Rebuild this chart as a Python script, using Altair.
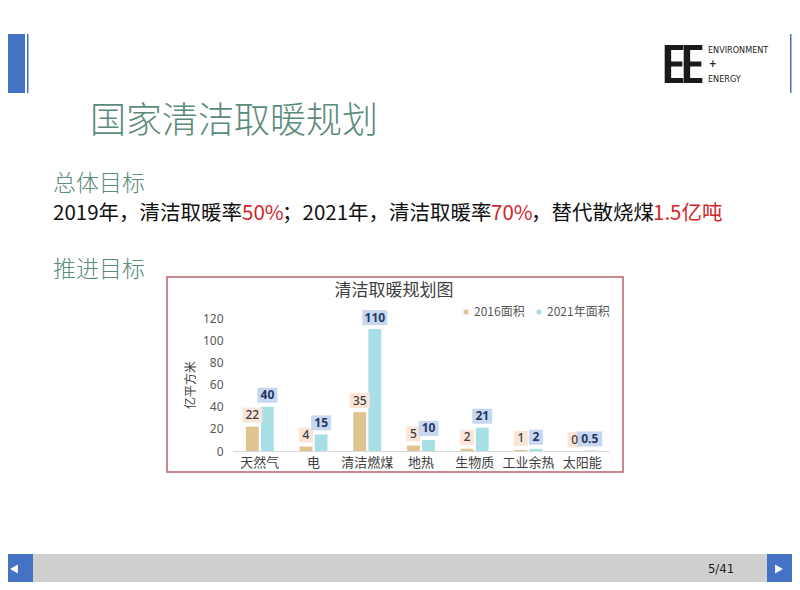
import altair as alt
import pandas as pd

# ---------------- data ----------------
categories = ["天然气", "电", "清洁燃煤", "地热", "生物质", "工业余热", "太阳能"]
area_2016 = [22, 4, 35, 5, 2, 1, 0]
area_2021 = [40, 15, 110, 10, 21, 2, 0.5]
series_names = ["2016面积", "2021年面积"]
y_ticks = [0, 20, 40, 60, 80, 100, 120]

slide_title = "国家清洁取暖规划"
section1 = "总体目标"
section2 = "推进目标"
goal_parts = ["2019年，清洁取暖率", "50%", "；2021年，清洁取暖率", "70%", "，替代散烧煤", "1.5亿吨"]
chart_title = "清洁取暖规划图"
y_title = "亿平方米"
page_label = "5/41"

rows = []
for c, a, b in zip(categories, area_2016, area_2021):
    rows.append({"cat": c, "series": series_names[0], "value": a, "label": f"{a:g}"})
    rows.append({"cat": c, "series": series_names[1], "value": b, "label": f"{b:g}"})
df = pd.DataFrame(rows)
df["len"] = df["label"].str.len()

CJK = "Noto Sans CJK SC"
TAN = "#e0c48f"
CYAN = "#a8dfe7"
BLUE = "#4472c4"
TEAL = "#5b8b7b"
RED = "#d0262a"

one = pd.DataFrame({"k": [0]})

def deco_rect(x, x2, y, y2, color, **kw):
    return alt.Chart(one).mark_rect(color=color, **kw).encode(
        x=alt.value(x), x2=alt.value(x2), y=alt.value(y), y2=alt.value(y2))

def deco_text(x, y, text, **kw):
    return alt.Chart(one).mark_text(text=text, **kw).encode(x=alt.value(x), y=alt.value(y))

def deco_point(x, y, shape, size, color):
    return alt.Chart(one).mark_point(shape=shape, size=size, filled=True, color=color,
                                     opacity=1, strokeWidth=0).encode(
        x=alt.value(x), y=alt.value(y))

# ---------------- slide decorations ----------------
E_PATH = "M-0.49,-1H0.49V-0.74H-0.15V-0.13H0.44V0.13H-0.15V0.74H0.49V1H-0.49Z"
deco = [
    deco_rect(0, 17, 26, 85, BLUE),
    deco_rect(19, 20.5, 26, 85, BLUE),
    deco_rect(782, 783.5, 26, 85, BLUE),
    deco_point(666, 56, E_PATH, 1444, "#1a1a1a"),
    deco_point(685, 56, E_PATH, 1444, "#1a1a1a"),
    deco_text(700, 42, "ENVIRONMENT", font="DejaVu Sans Condensed", fontSize=9, align="left",
              baseline="middle", color="#222"),
    deco_text(701, 56, "+", font="DejaVu Sans Condensed", fontSize=10, align="left",
              baseline="middle", color="#222", fontWeight="bold"),
    deco_text(700, 71, "ENERGY", font="DejaVu Sans Condensed", fontSize=9, align="left",
              baseline="middle", color="#222"),
    deco_text(82, 114, slide_title, font=CJK, fontSize=36, fontWeight=300, align="left",
              baseline="middle", color=TEAL),
    deco_text(45, 176, section1, font=CJK, fontSize=23, fontWeight=300, align="left",
              baseline="middle", color=TEAL),
    deco_text(45, 262, section2, font=CJK, fontSize=23, fontWeight=300, align="left",
              baseline="middle", color=TEAL),
    # footer
    deco_rect(0, 784, 546, 574, "#d0cfcf"),
    deco_rect(0, 25, 546, 574, BLUE),
    deco_rect(759, 784, 546, 574, BLUE),
    deco_point(6, 561, "triangle-left", 80, "white"),
    deco_point(771, 561, "triangle-right", 80, "white"),
    deco_text(713, 561, page_label, font="DejaVu Sans Condensed", fontSize=13, align="center",
              baseline="middle", color="#222"),
    # chart frame
    alt.Chart(one).mark_rect(fillOpacity=0, stroke="#b5656b", strokeWidth=1.5).encode(
        x=alt.value(159), x2=alt.value(615), y=alt.value(269), y2=alt.value(464)),
    deco_text(386, 283, chart_title, font=CJK, fontSize=17, align="center",
              baseline="middle", color="#404040"),
    deco_text(183, 377, y_title, font=CJK, fontSize=12, align="center", baseline="middle",
              color="#404040", angle=270),
]

# goal line with coloured segments
goal_x = [45, 234, 274, 483, 523, 645]
goal_colors = ["#111111", RED, "#111111", RED, "#111111", RED]
for gx, gt, gc in zip(goal_x, goal_parts, goal_colors):
    deco.append(deco_text(gx, 206, gt, font=CJK, fontSize=20.5, align="left",
                          baseline="middle", color=gc))

# ---------------- bar chart ----------------
x_scale = alt.Scale(domain=categories, range=[225, 601], paddingInner=0.48, paddingOuter=0.24)
y_scale = alt.Scale(domain=[0, 120], range=[443, 310], nice=False, zero=True)
xo_scale = alt.Scale(domain=series_names, paddingInner=0.15, paddingOuter=0)

x_axis = alt.Axis(title=None, labelAngle=0, ticks=False, grid=False, domainColor="#d9d9d9",
                  domainWidth=1, labelFont=CJK, labelFontSize=13, labelColor="#404040",
                  labelPadding=5, offset=-131)
y_axis = alt.Axis(title=None, values=y_ticks, ticks=False, domain=False, grid=False,
                  labelFont="Noto Sans", labelFontSize=12, labelColor="#595959",
                  labelPadding=0, offset=-215)

enc = dict(
    x=alt.X("cat:N", scale=x_scale, axis=x_axis, sort=categories),
    xOffset=alt.XOffset("series:N", scale=xo_scale, sort=series_names),
    y=alt.Y("value:Q", scale=y_scale, axis=y_axis),
)

base = alt.Chart(df)

bars = base.mark_bar().encode(
    color=alt.Color("series:N", scale=alt.Scale(domain=series_names, range=[TAN, CYAN]),
                    legend=alt.Legend(title=None, orient="none", legendX=452, legendY=298,
                                      direction="horizontal", symbolType="square",
                                      symbolSize=22, symbolStrokeWidth=0, labelFont=CJK,
                                      labelFontSize=12, labelColor="#595959",
                                      columnPadding=8, labelOffset=2)),
    **enc)

# label boxes: path units are pixels/10 with size 400 (radius 10 px)
BOX_PATHS = {1: "M-0.7,-0.75H0.7V0.75H-0.7Z", 2: "M-1,-0.75H1V0.75H-1Z",
             3: "M-1.25,-0.75H1.25V0.75H-1.25Z"}

label_layers = []
for s, boxc in [(series_names[0], "#fbe4d8"), (series_names[1], "#c6d7ef")]:
    for n, path in BOX_PATHS.items():
        sub = base.transform_filter((alt.datum.series == s) & (alt.datum.len == n))
        label_layers.append(sub.mark_point(shape=path, filled=True, size=400, opacity=1,
                                           color=boxc, strokeWidth=0,
                                           yOffset=-11.5).encode(**enc))
for s, txtc, fw in [(series_names[0], "#404040", 500), (series_names[1], "#1f3864", "bold")]:
    sub = base.transform_filter(alt.datum.series == s)
    label_layers.append(sub.mark_text(yOffset=-11.5, baseline="middle", align="center",
                                      font="Noto Sans", fontSize=12, fontWeight=fw,
                                      color=txtc).encode(text="label:N", **enc))

chart = alt.layer(*deco, bars, *label_layers).properties(
    width=784, height=574, autosize=alt.AutoSizeParams(type="none"), padding=0,
    background="white"
).configure_view(stroke=None)

chart.save("out.html", embed_options={"renderer": "svg", "actions": False})
